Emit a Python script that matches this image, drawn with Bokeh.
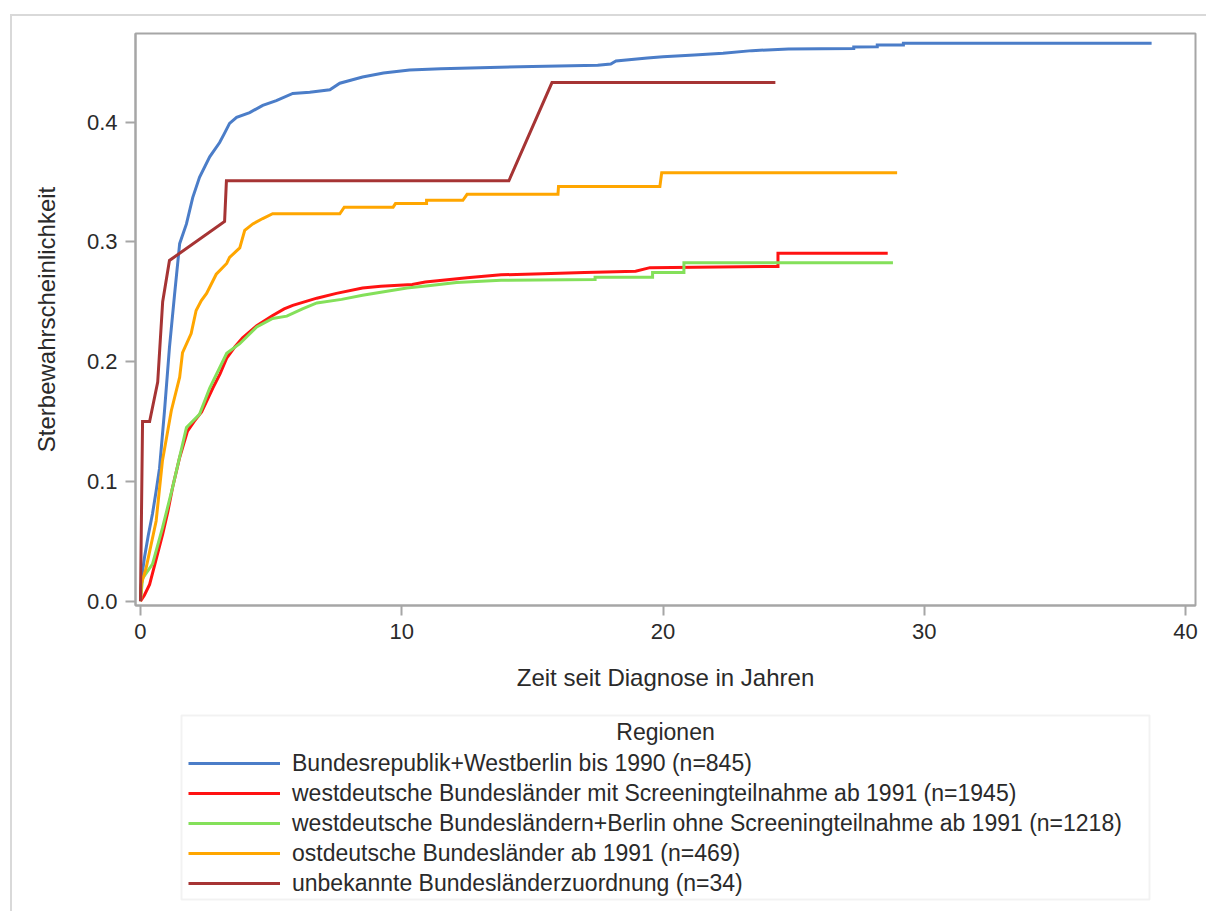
from bokeh.plotting import figure
from bokeh.layouts import column
from bokeh.models import (Legend, LegendItem, FixedTicker, PrintfTickFormatter, Range1d,
                          BoxAnnotation, Label)
from bokeh.embed import file_html
from bokeh.resources import INLINE

# Cumulative mortality curves (time in years, probability); repeated times mark step jumps
west_bis1990_t = [0, 0.05, 0.15, 0.3, 0.46, 0.6, 0.73, 0.92, 1.11, 1.3, 1.5, 1.76, 2.0, 2.26, 2.65,
                  3.03, 3.2, 3.41, 3.68, 4.18, 4.68, 5.2, 5.83, 6.48, 7.25, 7.63, 8.5, 9.3, 10.3,
                  11.5, 13.0, 15.0, 17.5, 18.0, 18.2, 19.4, 20.0, 21.2, 22.3, 23.4, 24.8, 27.3,
                  27.3, 28.2, 28.2, 29.2, 29.2, 38.7]
west_bis1990_p = [0, 0.02, 0.036, 0.055, 0.073, 0.092, 0.111, 0.159, 0.212, 0.255, 0.2985, 0.315,
                  0.337, 0.354, 0.371, 0.383, 0.39, 0.399, 0.404, 0.408, 0.414, 0.418, 0.424, 0.425,
                  0.427, 0.4325, 0.4377, 0.441, 0.4435, 0.4445, 0.4455, 0.4465, 0.4475, 0.4485,
                  0.451, 0.4535, 0.4545, 0.456, 0.4575, 0.4597, 0.461, 0.4615, 0.4628, 0.463,
                  0.4645, 0.4645, 0.4658, 0.4658]

west_screen_t = [0, 0.15, 0.35, 0.6, 0.85, 1.05, 1.23, 1.5, 1.8, 2.05, 2.34, 2.77, 3.05, 3.3, 3.6,
                 3.91, 4.45, 5.06, 5.5, 5.83, 6.75, 7.5, 8.5, 9.2, 10.4, 10.9, 12.5, 13.8, 15.4,
                 17.0, 18.95, 19.5, 24.4, 24.4, 28.6]
west_screen_p = [0, 0.005, 0.014, 0.035, 0.056, 0.075, 0.095, 0.12, 0.142, 0.15, 0.158, 0.178,
                 0.19, 0.203, 0.212, 0.22, 0.23, 0.2385, 0.244, 0.247, 0.253, 0.257, 0.2615, 0.263,
                 0.2645, 0.2665, 0.27, 0.2725, 0.2735, 0.2745, 0.2755, 0.2785, 0.2795, 0.2905,
                 0.2905]

west_noscreen_t = [0, 0.08, 0.46, 0.84, 1.23, 1.76, 2.26, 2.65, 3.3, 3.8, 4.45, 5.06, 5.6, 6.2,
                   6.75, 7.7, 8.5, 9.2, 10.2, 11.1, 12.1, 13.8, 17.4, 17.4, 19.6, 19.6, 20.8,
                   20.8, 28.8]
west_noscreen_p = [0, 0.019, 0.031, 0.061, 0.095, 0.145, 0.156, 0.178, 0.207, 0.215, 0.229, 0.236,
                   0.238, 0.244, 0.249, 0.252, 0.2555, 0.258, 0.2615, 0.2635, 0.266, 0.268,
                   0.2685, 0.2705, 0.2705, 0.2745, 0.2745, 0.2825, 0.2825]

ost_t = [0, 0.03, 0.22, 0.6, 0.84, 1.18, 1.5, 1.61, 1.94, 2.13, 2.33, 2.53, 2.9, 3.3, 3.41, 3.8,
         3.99, 4.3, 4.68, 5.06, 7.63, 7.8, 9.67, 9.76, 10.95, 10.95, 12.34, 12.5, 15.98, 16.0,
         19.88, 19.95, 28.96]
ost_p = [0, 0.014, 0.028, 0.067, 0.117, 0.159, 0.187, 0.2075, 0.2234, 0.2427, 0.251, 0.257, 0.273,
         0.282, 0.287, 0.295, 0.3096, 0.315, 0.3195, 0.3235, 0.3235, 0.329, 0.329, 0.332, 0.332,
         0.3347, 0.3347, 0.3397, 0.3397, 0.3463, 0.3463, 0.3578, 0.3578]

unbekannt_t = [0, 0.08, 0.35, 0.66, 0.85, 1.11, 3.22, 3.29, 14.1, 15.75, 24.3]
unbekannt_p = [0, 0.15, 0.15, 0.183, 0.25, 0.2845, 0.317, 0.351, 0.351, 0.433, 0.433]

labels = [
    "Bundesrepublik+Westberlin bis 1990 (n=845)",
    "westdeutsche Bundesländer mit Screeningteilnahme ab 1991 (n=1945)",
    "westdeutsche Bundesländern+Berlin ohne Screeningteilnahme ab 1991 (n=1218)",
    "ostdeutsche Bundesländer ab 1991 (n=469)",
    "unbekannte Bundesländerzuordnung (n=34)",
]
legend_title = "Regionen"
colors = ["#4b7dc8", "#ff1212", "#84e05a", "#ffa600", "#a63434"]
series = [
    (west_bis1990_t, west_bis1990_p),
    (west_screen_t, west_screen_p),
    (west_noscreen_t, west_noscreen_p),
    (ost_t, ost_p),
    (unbekannt_t, unbekannt_p),
]

x_ticks = [0, 10, 20, 30, 40]
y_ticks = [0.0, 0.1, 0.2, 0.3, 0.4]

FONT = "Liberation Sans"
AXIS_GREY = "#a6a6a6"
FRAME_GREY = "#d9d9d9"
TEXT = "#2a2a2a"

# Main plot area
p = figure(
    width=1194, height=684,
    frame_width=1058, frame_height=570,
    min_border_left=123, min_border_right=13, min_border_top=17, min_border_bottom=97,
    x_range=Range1d(-0.19, 40.38), y_range=Range1d(-0.0036, 0.474),
    output_backend="svg", toolbar_location=None,
    background_fill_color="white", border_fill_color="white",
    styles={"border-left": f"2px solid {FRAME_GREY}", "border-top": f"2px solid {FRAME_GREY}"},
)
p.grid.visible = False
p.outline_line_color = AXIS_GREY
p.outline_line_width = 2

for (t, v), c in zip(series, colors):
    p.line(t, v, line_color=c, line_width=3, line_join="miter")

for ax in (p.xaxis[0], p.yaxis[0]):
    ax.axis_line_color = AXIS_GREY
    ax.axis_line_width = 2
    ax.major_tick_line_color = AXIS_GREY
    ax.major_tick_line_width = 2
    ax.major_tick_in = 0
    ax.major_tick_out = 10
    ax.minor_tick_line_color = None
    ax.major_label_text_font = FONT
    ax.major_label_text_font_size = "22px"
    ax.major_label_text_color = TEXT
    ax.axis_label_text_font = FONT
    ax.axis_label_text_font_size = "24px"
    ax.axis_label_text_font_style = "normal"
    ax.axis_label_text_color = TEXT

p.xaxis.ticker = FixedTicker(ticks=x_ticks)
p.yaxis.ticker = FixedTicker(ticks=y_ticks)
p.yaxis.formatter = PrintfTickFormatter(format="%.1f")
p.xaxis.axis_label = "Zeit seit Diagnose in Jahren"
p.yaxis.axis_label = "Sterbewahrscheinlichkeit"
p.xaxis.major_label_standoff = 8
p.yaxis.major_label_standoff = 8
p.xaxis.axis_label_standoff = 22
p.yaxis.axis_label_standoff = 24

# Legend panel below the plot; its ranges lie away from the data, so the
# series lines only serve as legend swatches here
lg = figure(
    width=1194, height=211, min_border=0,
    x_range=Range1d(1000, 1001), y_range=Range1d(1000, 1001),
    x_axis_location=None, y_axis_location=None,
    output_backend="svg", toolbar_location=None,
    background_fill_color="white", border_fill_color="white",
    styles={"border-left": f"2px solid {FRAME_GREY}"},
)
lg.grid.visible = False
lg.outline_line_color = None

swatches = [lg.line(t, v, line_color=c, line_width=3) for (t, v), c in zip(series, colors)]

lg.add_layout(BoxAnnotation(
    left=46, right=1014, bottom=12, top=196,
    left_units="screen", right_units="screen", bottom_units="screen", top_units="screen",
    fill_color=None, line_color="#d4d4d4", line_width=2,
))
lg.add_layout(Label(
    x=530, y=180, x_units="screen", y_units="screen", text=legend_title,
    text_align="center", text_baseline="middle",
    text_font=FONT, text_font_size="23px", text_color=TEXT,
))

legend = Legend(
    items=[LegendItem(label=l, renderers=[r]) for l, r in zip(labels, swatches)],
    location=(53, 13),
    label_text_font=FONT, label_text_font_size="23px", label_text_color=TEXT,
    glyph_width=92, glyph_height=30, label_height=30, label_width=850,
    label_standoff=12, spacing=0, padding=0, margin=0,
    border_line_color=None, background_fill_alpha=0.0,
)
lg.add_layout(legend, "center")

layout = column(p, lg, spacing=0, styles={"margin-left": "10px", "margin-top": "14px"})

html = file_html(layout, INLINE)
open("out.html", "w").write(html)
